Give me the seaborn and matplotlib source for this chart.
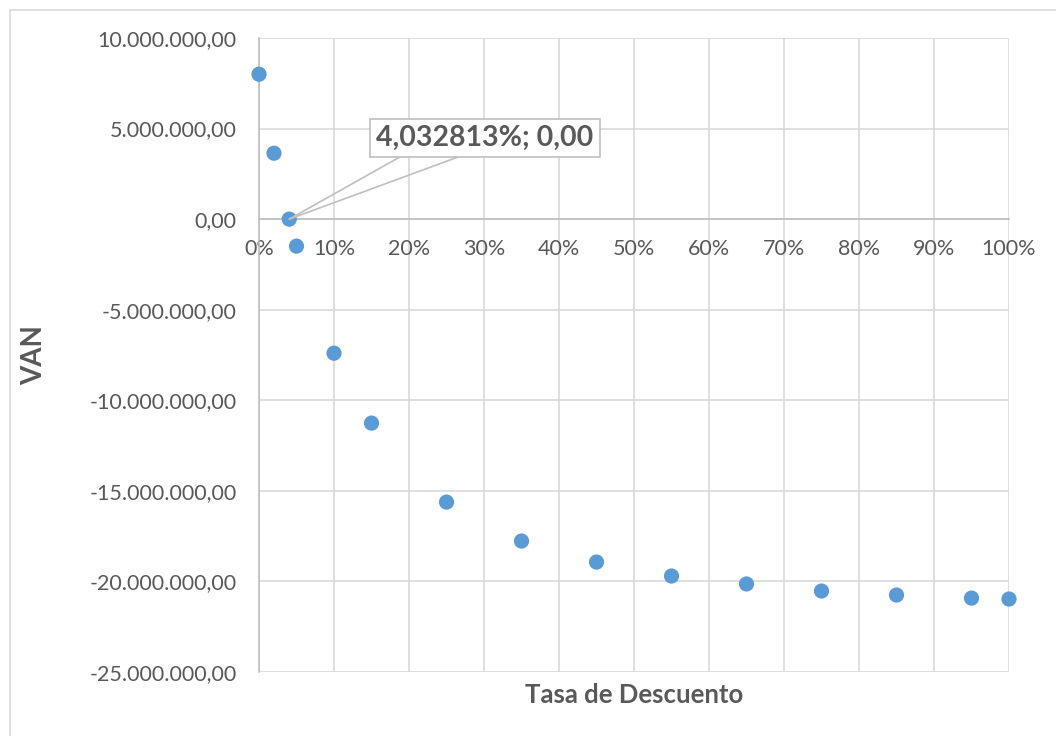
import numpy as np
import pandas as pd
import seaborn as sns
import matplotlib.pyplot as plt
from matplotlib.ticker import FuncFormatter, MultipleLocator
from matplotlib.patches import Rectangle

# tasa de descuento (%) y VAN
tasa = [0, 2, 4.032813, 5, 10, 15, 25, 35, 45, 55, 65, 75, 85, 95, 100]
van = [8000000, 3640000, 0, -1490000, -7400000, -11260000, -15620000,
       -17770000, -18930000, -19700000, -20140000, -20530000, -20750000,
       -20920000, -20970000]

x_label = "Tasa de Descuento"
y_label = "VAN"
nota = "4,032813%; 0,00"

df = pd.DataFrame({"tasa": tasa, "van": van})

sns.set_style("white")
plt.rcParams['font.family'] = ['Lato', 'DejaVu Sans']

fig = plt.figure(figsize=(10.56, 7.36), dpi=100)
ax = fig.add_axes([259 / 1056, 64 / 736, 750 / 1056, 634 / 736])

# marco exterior del gráfico
fig.patches.append(Rectangle((10 / 1056, -0.05), 1.2, 1.05 - 10 / 736,
                             transform=fig.transFigure, fill=False,
                             edgecolor="#d9d9d9", linewidth=1.2))

sns.scatterplot(data=df, x="tasa", y="van", ax=ax, color="#5b9bd5",
                s=120, edgecolor="none", zorder=3, clip_on=False)

ax.set_xlim(0, 100)
ax.set_ylim(-25000000, 10000000)
ax.xaxis.set_major_locator(MultipleLocator(10))
ax.yaxis.set_major_locator(MultipleLocator(5000000))


def fmt_y(v, pos):
    s = f"{v:,.2f}"
    return s.replace(",", "X").replace(".", ",").replace("X", ".")


ax.yaxis.set_major_formatter(FuncFormatter(fmt_y))
ax.xaxis.set_major_formatter(FuncFormatter(lambda v, p: f"{v:.0f}%"))

ax.grid(True, color="#d9d9d9", linewidth=1.2)
ax.set_axisbelow(True)
for side in ["top", "right"]:
    ax.spines[side].set_visible(False)
ax.spines["left"].set_color("#bfbfbf")
ax.spines["left"].set_linewidth(1.2)
ax.spines["bottom"].set_position(("data", 0))
ax.spines["bottom"].set_color("#bfbfbf")
ax.spines["bottom"].set_linewidth(1.2)
ax.tick_params(axis="both", length=0, labelsize=15.5, labelcolor="#595959")
ax.tick_params(axis="x", pad=14)
ax.tick_params(axis="y", pad=16)

ax.set_xlabel(x_label, fontsize=18.5, fontweight="bold", color="#595959")
ax.set_ylabel(y_label, fontsize=20, fontweight="bold", color="#595959")
ax.xaxis.set_label_coords(0.5, -0.017)
ax.yaxis.set_label_coords(-0.283, 0.5)

# etiqueta del punto de corte (TIR)
box_bottom = 3530000
ax.text(30.1, 4470000, nota, ha="center", va="center",
        fontsize=20.5, fontweight="bold", color="#595959", zorder=6,
        bbox=dict(boxstyle="square,pad=0.22", fc="white", ec="#bfbfbf", lw=1.2))
for bx in (19.2, 27.2):
    ax.annotate("", xy=(tasa[2], van[2]), xytext=(bx, box_bottom),
                arrowprops=dict(arrowstyle="-", color="#bfbfbf", lw=1.2,
                                shrinkA=0, shrinkB=0), zorder=5)

fig.savefig("out.png", dpi=100)
